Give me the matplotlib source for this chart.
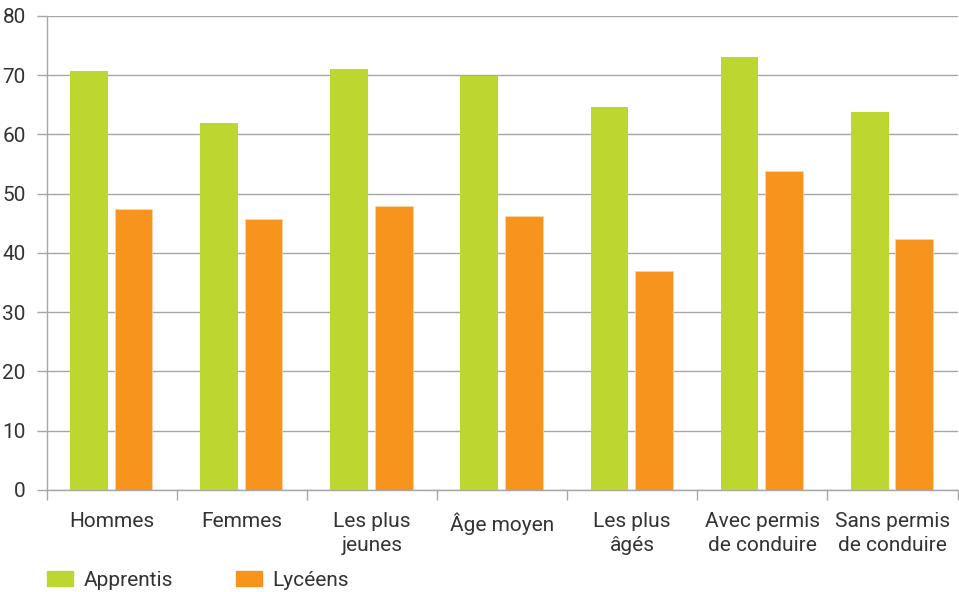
import numpy as np
import matplotlib
matplotlib.use("Agg")
import matplotlib.pyplot as plt
from matplotlib.patches import Patch

#%% DATA
categories = ["Hommes", "Femmes", "Les plus\njeunes", "Âge moyen",
              "Les plus\nâgés", "Avec permis\nde conduire", "Sans permis\nde conduire"]
apprentis = [70.7, 61.9, 71.0, 69.9, 64.6, 73.1, 63.8]
lyceens   = [47.5, 45.8, 48.0, 46.2, 37.0, 53.8, 42.3]
yticks    = [0, 10, 20, 30, 40, 50, 60, 70, 80]

GREEN  = "#BED630"
ORANGE = "#F7941E"
GRID   = "#A6A6A6"
TEXT   = "#333333"

plt.rcParams['font.family'] = ['Roboto', 'DejaVu Sans']

#%% FIGURE
fig = plt.figure(figsize=(9.59, 5.92), dpi=100)
ax = fig.add_axes([0.0485, 0.1723, 0.95, 0.8007])

x = np.arange(len(categories))
w = 0.29
ax.bar(x - 0.175, apprentis, w, color=GREEN, zorder=3)
ax.bar(x + 0.168, lyceens, w, color=ORANGE, edgecolor="#FAD3A6", linewidth=0.6, zorder=3)

ax.set_xlim(-0.5, len(categories) - 0.5)
ax.set_ylim(0, 80)
ax.set_yticks(yticks)
ax.yaxis.grid(True, color=GRID, linewidth=1.0, zorder=0)
ax.set_axisbelow(True)

# category boundaries as ticks, labels centred in between
ax.set_xticks(np.arange(len(categories) + 1) - 0.5)
ax.set_xticklabels([])
ax.set_xticks(x, minor=True)
ax.set_xticklabels(categories, minor=True, fontsize=15, color=TEXT, linespacing=1.3)
ax.tick_params(axis="x", which="minor", length=0, pad=16)
ax.tick_params(axis="x", which="major", length=7, color=GRID, width=1.0)
ax.tick_params(axis="y", length=7, color=GRID, width=1.0, labelsize=15,
               labelcolor=TEXT, pad=8)

for side in ["top", "right"]:
    ax.spines[side].set_visible(False)
ax.spines["left"].set_color(GRID)
ax.spines["bottom"].set_color(GRID)
ax.spines["left"].set_linewidth(1.0)
ax.spines["bottom"].set_linewidth(1.0)

handles = [Patch(color=GREEN, label="Apprentis"), Patch(color=ORANGE, label="Lycéens")]
fig.legend(handles=handles, loc="lower left", bbox_to_anchor=(0.0445, -0.004), ncol=2,
           frameon=False, fontsize=15, labelcolor=TEXT, handlelength=1.25,
           handleheight=0.72, columnspacing=3.05, handletextpad=0.5,
           borderaxespad=0.0, borderpad=0.2)

fig.savefig("out.png", dpi=100)
